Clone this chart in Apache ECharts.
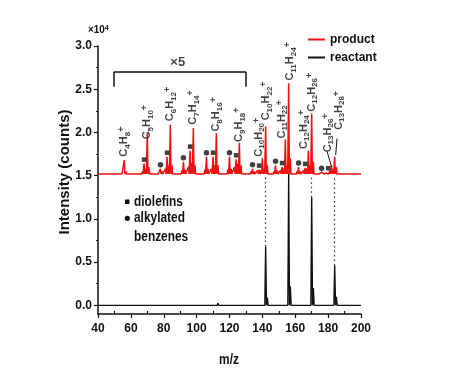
<!DOCTYPE html>
<html><head><meta charset="utf-8">
<script src="https://cdn.jsdelivr.net/npm/echarts@6/dist/echarts.min.js"></script>
<style>html,body{margin:0;padding:0;background:#fff}#c{width:458px;height:389px}</style>
</head><body><div id="c"></div>
<script>
// ---- axis ticks ----
const xTicks = [40, 60, 80, 100, 120, 140, 160, 180, 200];
const xMinorTicks = [50, 70, 90, 110, 130, 150, 170, 190];
const yTicks = [0, 0.5, 1, 1.5, 2, 2.5, 3];
const yMinorTicks = [0.25, 0.75, 1.25, 1.75, 2.25, 2.75];

// ---- product (red, x5 and offset) ----
const productBase = 1.52;
const productPeakMz = [55,56,57,67,68,69,70,71,77,78,79,81,82,83,84,85,91,92,93,95,96,97,98,99,105,106,107,109,110,111,112,113,119,120,121,123,124,125,126,127,133,134,135,137,138,139,140,141,142,143,147,148,149,151,152,153,154,155,156,157,161,162,163,165,166,167,168,169,170,171,175,176,177,179,180,181,182,183,184,185];
const productPeakY  = [1.54,1.68,1.55,1.55,1.64,1.58,2.00,1.60,1.54,1.58,1.55,1.58,1.72,1.62,2.09,1.62,1.56,1.66,1.57,1.60,1.79,1.65,2.05,1.62,1.57,1.72,1.58,1.58,1.72,1.62,1.99,1.62,1.57,1.72,1.58,1.60,1.69,1.64,1.88,1.62,1.55,1.58,1.55,1.56,1.57,1.56,1.70,1.58,2.07,1.62,1.55,1.62,1.56,1.56,1.60,1.58,1.92,1.62,2.57,1.70,1.55,1.60,1.55,1.56,1.59,1.58,1.79,1.62,2.22,1.66,1.53,1.54,1.53,1.53,1.54,1.56,1.62,1.58,1.72,1.60];

// ---- reactant (black) ----
const reactantBase = 0;
const reactantPeakMz = [99, 113, 127, 142, 143, 156, 157, 170, 171, 184, 185];
const reactantPeakY  = [0.02, 0.025, 0.02, 0.68, 0.09, 1.52, 0.22, 1.25, 0.2, 0.46, 0.1];

// ---- markers ----
const diolefinMz = [68, 82, 96, 110, 124, 138, 152, 166, 180];
const diolefinY  = [1.64, 1.72, 1.79, 1.72, 1.69, 1.57, 1.60, 1.59, 1.54];
const benzeneMz = [78, 92, 106, 120, 134, 148, 162, 176];
const benzeneY  = [1.58, 1.66, 1.72, 1.72, 1.58, 1.62, 1.60, 1.54];

// ---- formula labels ----
const formulaText = ['C4H8','C5H10','C6H12','C7H14','C8H16','C9H18','C10H20','C10H22','C11H22','C11H24','C12H24','C12H26','C13H26','C13H28'];
const formulaMz = [56, 70, 84, 98, 112, 126, 137.8, 142.4, 151.7, 157, 165.5, 170, 180, 186.6];
const formulaY  = [1.72, 1.92, 2.13, 2.09, 2.01, 1.89, 1.72, 2.14, 1.93, 2.60, 1.81, 2.24, 1.77, 2.03];

// leader lines for C13 labels
const leaderFrom = [[179.4, 1.78], [185.4, 1.93]];
const leaderTo   = [[182.1, 1.60], [184.6, 1.74]];

// dotted links reactant -> product
const linkMz = [142, 170, 184];
const linkTopY = 1.5;

// x5 bracket
const bracketMz = [49.5, 130];
const bracketTopY = 2.70;
const bracketFootY = 2.53;
const scaleLabel = '×5';
const scaleLabelPos = [88.5, 2.81];

const FW = '"Liberation Sans", Arial, sans-serif';

function profile(base, mz, ys, hw) {
  const pts = [[40, base]];
  for (let i = 0; i < mz.length; i++) {
    pts.push([mz[i] - hw, base], [mz[i], ys[i]], [mz[i] + hw, base]);
  }
  pts.push([200, base]);
  return pts;
}
function richFormula(s) {
  return s.replace(/([A-Z])(\d+)/g, '{m|$1}{s|$2}') + '{p|+}';
}
const zip = (a, b) => a.map((v, i) => [v, b[i]]);

const markLines = [];
markLines.push([{coord: [bracketMz[0], bracketFootY]}, {coord: [bracketMz[0], bracketTopY]}]);
markLines.push([{coord: [bracketMz[0], bracketTopY]}, {coord: [bracketMz[1], bracketTopY]}]);
markLines.push([{coord: [bracketMz[1], bracketTopY]}, {coord: [bracketMz[1], bracketFootY]}]);
leaderFrom.forEach((f, i) => markLines.push([{coord: f, lineStyle:{width:1}}, {coord: leaderTo[i]}]));
linkMz.forEach(m => {
  const top = reactantPeakY[reactantPeakMz.indexOf(m)];
  markLines.push([{coord: [m, top], lineStyle: {type: [1.5, 3], width: 1.2, color: '#333'}}, {coord: [m, linkTopY]}]);
});

const txt = (t, x, y, size, extra) => Object.assign({type: 'text', x: x, y: y, scaleX: 0.85,
  style: {text: t, font: 'bold ' + size + 'px ' + FW, fill: '#111', verticalAlign: 'middle', textVerticalAlign: 'middle'}}, extra || {});

const chart = echarts.init(document.getElementById('c'), null, {renderer: 'canvas'});
chart.setOption({
  animation: false,
  backgroundColor: '#fff',
  grid: {left: 98, right: 97, top: 46, bottom: 75, containLabel: false},
  legend: {
    data: [{name: 'product', icon: 'rect'}, {name: 'reactant', icon: 'rect'}], orient: 'vertical', left: 303, top: 28,
    itemWidth: 17, itemHeight: 2, itemGap: 5,
    textStyle: {fontFamily: FW, fontWeight: 'bold', fontSize: 12, lineHeight: 13, color: '#111'}
  },
  xAxis: [{
    type: 'value', min: 40, max: 200, interval: 20,
    axisLine: {onZero: false, lineStyle: {color: '#111', width: 1.5}},
    axisTick: {inside: false, length: 4, lineStyle: {color: '#111', width: 1.2}},
    axisLabel: {fontFamily: FW, fontWeight: 'bold', fontSize: 12, color: '#111', margin: 9},
    splitLine: {show: false}
  }, {
    type: 'value', min: 40, max: 200, position: 'bottom',
    axisLine: {show: false, onZero: false},
    axisTick: {inside: true, length: 3, customValues: xMinorTicks, lineStyle: {color: '#111', width: 1.2}},
    axisLabel: {show: false}, splitLine: {show: false}
  }],
  yAxis: [{
    type: 'value', min: -0.1, max: 3,
    axisLine: {show: true, onZero: false, lineStyle: {color: '#111', width: 1.5}},
    axisTick: {show: true, length: 4, customValues: yTicks, lineStyle: {color: '#111', width: 1.2}},
    axisLabel: {customValues: yTicks, formatter: v => v.toFixed(1), fontFamily: FW, fontWeight: 'bold', fontSize: 12, color: '#111', margin: 6},
    splitLine: {show: false}
  }, {
    type: 'value', min: -0.1, max: 3, position: 'left',
    axisLine: {show: false, onZero: false},
    axisTick: {show: true, length: 2, customValues: yMinorTicks, lineStyle: {color: '#111', width: 1.2}},
    axisLabel: {show: false}, splitLine: {show: false}
  }],
  graphic: [
    {type: 'text', x: 88, y: 24, scaleX: 0.9, style: {text: '{a|×10}{b|4}', rich: {
      a: {fontFamily: FW, fontWeight: 'bold', fontSize: 11, lineHeight: 12, fill: '#111'},
      b: {fontFamily: FW, fontWeight: 'bold', fontSize: 8, lineHeight: 8, verticalAlign: 'top', fill: '#111'}}}},
    {type: 'text', x: 65, y: 172, rotation: Math.PI / 2, style: {text: 'Intensity (counts)', font: 'bold 15px ' + FW, fill: '#111', align: 'center', verticalAlign: 'middle', textAlign: 'center', textVerticalAlign: 'middle'}},
    txt('m/z', 229, 360, 14, {style: {text: 'm/z', font: 'bold 14px ' + FW, fill: '#111', align: 'center', verticalAlign: 'middle', textAlign: 'center', textVerticalAlign: 'middle'}}),
    {type: 'rect', shape: {x: 125, y: 199.5, width: 4.5, height: 4.5}, style: {fill: '#111'}},
    {type: 'circle', shape: {cx: 127.3, cy: 218.3, r: 2.6}, style: {fill: '#111'}},
    txt('diolefins', 134, 201.7, 14),
    txt('alkylated', 134, 218.3, 14),
    txt('benzenes', 134, 236.7, 14)
  ],
  series: [
    {name: 'reactant', type: 'line', data: profile(reactantBase, reactantPeakMz, reactantPeakY, 0.5),
     showSymbol: false, symbol: 'none', lineStyle: {color: '#111', width: 1.4}, itemStyle: {color: '#111'}, z: 2,
     markLine: {silent: true, symbol: ['none', 'none'], label: {show: false}, lineStyle: {color: '#111', width: 1.5, type: 'solid'}, data: markLines}},
    {name: 'product', type: 'line', data: profile(productBase, productPeakMz, productPeakY, 0.4),
     showSymbol: false, symbol: 'none', lineStyle: {color: '#f01010', width: 1.5}, itemStyle: {color: '#f01010'}, z: 3},
    {name: 'diolefins', type: 'scatter', data: zip(diolefinMz, diolefinY), symbol: 'rect', symbolSize: 4.5, symbolOffset: [0, -4], itemStyle: {color: '#111'}, z: 4},
    {name: 'alkylated benzenes', type: 'scatter', data: zip(benzeneMz, benzeneY), symbol: 'circle', symbolSize: 5.5, symbolOffset: [0, -4], itemStyle: {color: '#111'}, z: 4},
    {name: 'formulas', type: 'scatter', data: formulaMz.map((m, i) => ({value: [m, formulaY[i]], label: {formatter: richFormula(formulaText[i])}})),
     symbolSize: 0, z: 5,
     label: {show: true, position: 'top', distance: 0, rotate: 90, align: 'left', verticalAlign: 'middle', color: '#111',
       rich: {
         m: {fontFamily: FW, fontWeight: 'bold', fontSize: 11, lineHeight: 14, color: '#111'},
         s: {fontFamily: FW, fontWeight: 'bold', fontSize: 8, lineHeight: 8, verticalAlign: 'bottom', color: '#111'},
         p: {fontFamily: FW, fontWeight: 'bold', fontSize: 9, lineHeight: 9, verticalAlign: 'top', color: '#111'}
       }}},
    {name: 'scale', type: 'scatter', data: [scaleLabelPos], symbolSize: 0, z: 5,
     label: {show: true, position: 'inside', formatter: scaleLabel, fontFamily: FW, fontWeight: 'bold', fontSize: 13, color: '#111'}}
  ]
});
</script></body></html>
